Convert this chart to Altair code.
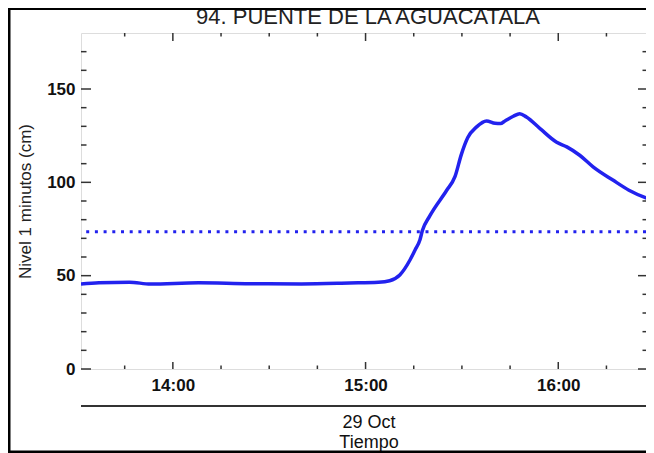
import altair as alt
import pandas as pd

DAY = "2023-10-29"
TITLE = "94. PUENTE DE LA AGUACATALA"
Y_TITLE = "Nivel 1 minutos (cm)"
DATE_LABEL = "29 Oct"
X_TITLE = "Tiempo"

times = ["13:31:24", "13:37:00", "13:46:30", "13:53:00", "14:08:00", "14:24:00",
         "14:40:00", "14:55:00", "15:04:00", "15:07:30", "15:10:40", "15:13:50",
         "15:15:25", "15:16:55", "15:17:40", "15:20:00", "15:25:10", "15:27:50",
         "15:29:50", "15:31:50", "15:34:35", "15:37:40", "15:40:20", "15:42:00",
         "15:43:25", "15:46:00", "15:48:00", "15:50:05", "15:54:20", "15:59:30",
         "16:02:40", "16:06:40", "16:10:50", "16:17:00", "16:22:00", "16:27:30",
         "16:29:30"]
level = [45.6, 46.2, 46.5, 45.5, 46.2, 45.7,
         45.6, 46.1, 46.5, 47.3, 50.4, 58.4,
         63.8, 69.1, 74.0, 82.0, 95.5, 103.0,
         115.0, 124.0, 129.7, 132.9, 131.6, 131.5,
         132.9, 135.4, 136.8, 135.0, 128.8, 121.5,
         119.0, 114.5, 108.3, 101.2, 95.8, 91.6,
         90.5]
threshold = [73.5]

x_major = ["14:00:00", "15:00:00", "16:00:00"]
x_minor = ["13:45:00", "14:15:00", "14:30:00", "14:45:00",
           "15:15:00", "15:30:00", "15:45:00", "16:15:00"]
y_major = [0, 50, 100, 150]
y_minor = [10, 20, 30, 40, 60, 70, 80, 90, 110, 120, 130, 140, 160, 170]
x_range = ["13:31:24", "16:27:19"]
y_range = [0, 180]

W, H = 565, 336
BLUE = "#2222ee"
FRAME = "#333333"
FONT = "Liberation Sans"


def ts(hms):
    return f"{DAY}T{hms}"


def dt(hms):
    h, m, s = (int(p) for p in hms.split(":"))
    return alt.DateTime(year=2023, month=10, date=29, hours=h, minutes=m, seconds=s)


df = pd.DataFrame({"t": [ts(t) for t in times], "v": level})
thr = pd.DataFrame({"v": threshold})
xmaj = pd.DataFrame({"t": [ts(t) for t in x_major]})
xmin = pd.DataFrame({"t": [ts(t) for t in x_minor]})
ymaj = pd.DataFrame({"v": y_major})
ymin = pd.DataFrame({"v": y_minor})

xscale = alt.Scale(domain=[dt(x_range[0]), dt(x_range[1])])
yscale = alt.Scale(domain=y_range, nice=False, zero=False)

xaxis = alt.Axis(values=[dt(t) for t in x_major], format="%H:%M", domain=False,
                 ticks=False, tickSize=0, grid=False, labelPadding=8,
                 labelFontSize=17, labelFontWeight="bold", labelFont=FONT,
                 labelColor="#111", labelFlush=False, labelOverlap=False, title=None)
yaxis = alt.Axis(values=y_major, domain=False, ticks=False, tickSize=0, grid=False,
                 labelPadding=6, labelFontSize=17, labelFontWeight="bold",
                 labelFont=FONT, labelColor="#111", labelFlush=False,
                 labelOverlap=False, title=Y_TITLE, titleFont=FONT,
                 titleFontSize=17, titleFontWeight="normal", titleColor="#222",
                 titlePadding=12)

line = alt.Chart(df).mark_line(color=BLUE, strokeWidth=3.5, interpolate="monotone",
                               clip=True).encode(
    x=alt.X("t:T", scale=xscale, axis=xaxis),
    y=alt.Y("v:Q", scale=yscale, axis=yaxis),
)

thr_rule = alt.Chart(thr).mark_rule(color=BLUE, strokeWidth=3, strokeDash=[3, 5.7]).encode(
    y=alt.Y("v:Q", axis=None)
)

tick_style = dict(color=FRAME, strokeWidth=1.5)

def xticks(data, y0, y1):
    return alt.Chart(data).mark_rule(**tick_style).encode(
        x=alt.X("t:T", axis=None), y=alt.value(y0), y2=alt.value(y1))

def yticks(data, x0, x1):
    return alt.Chart(data).mark_rule(**tick_style).encode(
        y=alt.Y("v:Q", axis=None), x=alt.value(x0), x2=alt.value(x1))

ticks = [
    xticks(xmaj, H, H - 7), xticks(xmin, H, H - 3.5),
    xticks(xmaj, 0, 8), xticks(xmin, 0, 3.5),
    yticks(ymaj, 0, 10), yticks(ymin, 0, 5.5),
    yticks(ymaj, W, W - 8), yticks(ymin, W, W - 3.5),
]

date_line = alt.Chart(thr).mark_rule(color=FRAME, strokeWidth=2).encode(
    x=alt.value(0), x2=alt.value(W), y=alt.value(H + 37))

def label(text, x, y, size):
    return alt.Chart(pd.DataFrame({"s": [text]})).mark_text(
        font=FONT, fontSize=size, color="#111", baseline="middle", align="center"
    ).encode(text="s:N", x=alt.value(x), y=alt.value(y))

title = alt.Chart(pd.DataFrame({"s": [TITLE]})).mark_text(
    font=FONT, fontSize=22, color="#222", baseline="alphabetic", align="center"
).encode(text="s:N", x=alt.value(287), y=alt.value(-9))

date_lbl = label(DATE_LABEL, 288, H + 54, 18)
x_title = label(X_TITLE, 288, H + 74, 18)

border_style = dict(color="#000000", strokeWidth=3)
border = [
    alt.Chart(thr).mark_rule(**border_style).encode(
        x=alt.value(-72), x2=alt.value(-72), y=alt.value(-26), y2=alt.value(H + 90)),
    alt.Chart(thr).mark_rule(**border_style).encode(
        x=alt.value(-74), x2=alt.value(W + 10), y=alt.value(-24.5)),
    alt.Chart(thr).mark_rule(**border_style).encode(
        x=alt.value(-74), x2=alt.value(W + 10), y=alt.value(H + 83)),
]

chart = alt.layer(
    line, *ticks, thr_rule, date_line, date_lbl, x_title, title, *border
).resolve_axis(x="independent", y="independent").properties(
    width=W, height=H,
    padding={"left": 73, "top": 25, "right": 0, "bottom": 84},
    autosize=alt.AutoSizeParams(type="none"),
).configure_view(stroke=FRAME, strokeWidth=1.5).configure(background="white")

chart.save("out.html", embed_options={"renderer": "svg", "actions": False})
